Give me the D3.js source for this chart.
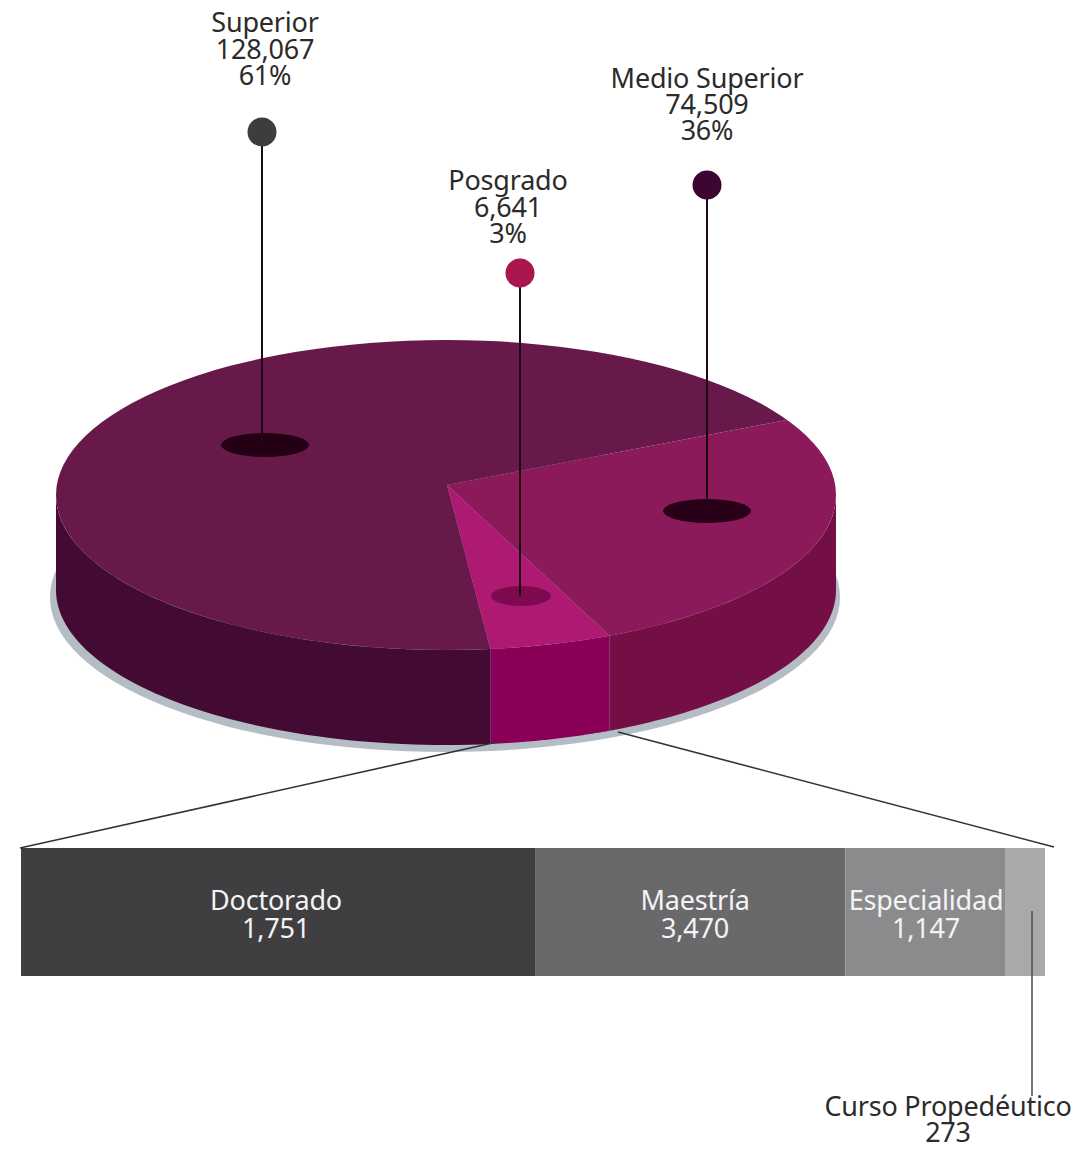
<!DOCTYPE html>
<html>
<head>
<meta charset="utf-8">
<script src="https://cdn.jsdelivr.net/npm/d3@7"></script>
<style>
  html, body { margin: 0; padding: 0; background: #fff; }
  text { font-family: "Noto Sans", sans-serif; font-size: 27px; letter-spacing: -0.2px; text-anchor: middle; fill: #2b2b2b; }
  text.inbar { fill: #f4f4f4; }
</style>
</head>
<body>
<script>
// pie data
let levels = ["Medio Superior", "Posgrado", "Superior"];
let students = [74509, 6641, 128067];
let percents = [36, 3, 61];
// sweep of each slice as it is drawn in the picture (degrees), not the same as percents
let drawnSweep = [92.5, 17.2, 250.3];

// posgrado breakdown
let posgrado = ["Doctorado", "Maestría", "Especialidad", "Curso Propedéutico"];
let posgradoValues = [1751, 3470, 1147, 273];
// bar widths as drawn in the picture (share of the bar, %)
let drawnShare = [50.2, 30.3, 15.6, 3.9];

let w = 1074;
let h = 1150;

let topColor = ["#8c1a5a", "#ae1a72", "#671a4a"];
let sideColor = ["#740f45", "#8a0058", "#430a33"];
let pinColor = ["#3d0532", "#a8154f", "#3d3d3f"];
let barColor = ["#3f3f41", "#69696c", "#8b8b8e", "#a9a9ac"];

let cx = 446, cy = 495, rx = 390, ry = 155, depth = 95;
// the slices meet a bit above the middle of the disc
let apexX = 447, apexY = 485;
let k = ry / rx;

let svg = d3.select("body")
            .append("svg")
            .attr("width", w)
            .attr("height", h)
            .style("display", "block");

let fmt = d3.format(",");

let pie = d3.pie()
            .sort(null)
            .value(d => d)
            .startAngle(64.3 * Math.PI / 180)
            .endAngle((64.3 + 360) * Math.PI / 180);
let slices = pie(drawnSweep);

//where a slice edge coming from the apex hits the rim, as an angle on the rim
function rimAngle(a) {
	let ux = Math.sin(a), uy = -Math.cos(a);
	let ox = (apexX - cx) / rx, oy = (apexY - cy) / ry;
	let b = ox * ux + oy * uy;
	let c = ox * ox + oy * oy - 1;
	let t = -b + Math.sqrt(b * b - c);
	let r = Math.atan2(ox + t * ux, -(oy + t * uy));
	while (r < a - Math.PI) r += 2 * Math.PI;
	return r;
}

//shadow under the pie
svg.append("ellipse")
   .attr("cx", 445).attr("cy", 597)
   .attr("rx", 395).attr("ry", 155)
   .attr("fill", "#b5bdc4");

//sides: only the part of each slice facing the viewer
let rim = d3.line();
function sidePath(s) {
	let a0 = Math.max(rimAngle(s.startAngle), Math.PI / 2);
	let a1 = Math.min(rimAngle(s.endAngle), 3 * Math.PI / 2);
	let step = (a1 - a0) / 60;
	let angles = d3.range(61).map(i => a0 + i * step);
	let upper = angles.map(a => [cx + rx * Math.sin(a), cy - ry * Math.cos(a)]);
	let lower = angles.slice().reverse().map(a => [cx + rx * Math.sin(a), cy + depth - ry * Math.cos(a)]);
	return rim(upper.concat(lower)) + "Z";
}

svg.selectAll("path.side")
   .data(slices)
   .enter()
   .append("path")
   .attr("class", "side")
   .attr("d", sidePath)
   .attr("fill", (d, i) => sideColor[i]);

//top of the pie, clipped to the disc
svg.append("clipPath")
   .attr("id", "disc")
   .append("ellipse")
   .attr("cx", cx).attr("cy", cy)
   .attr("rx", rx).attr("ry", ry);

let arc = d3.arc().innerRadius(0).outerRadius(rx * 1.2);
svg.append("g")
   .attr("clip-path", "url(#disc)")
   .append("g")
   .attr("transform", `translate(${apexX},${apexY}) scale(1,${k})`)
   .selectAll("path")
   .data(slices)
   .enter()
   .append("path")
   .attr("d", arc)
   .attr("fill", (d, i) => topColor[i]);

//pins
let pinX = [707, 520, 262];
let pinTop = [185, 273, 132];
let pinBase = [511, 596, 445];
let holeX = [707, 521, 265];
let holeRx = [44, 30, 44];
let holeRy = [12, 10, 12];
let holeColor = ["#2a0018", "#7d0a4f", "#240014"];

levels.forEach((name, i) => {
	svg.append("ellipse")
	   .attr("cx", holeX[i]).attr("cy", pinBase[i])
	   .attr("rx", holeRx[i]).attr("ry", holeRy[i])
	   .attr("fill", holeColor[i]);
	svg.append("line")
	   .attr("x1", pinX[i]).attr("x2", pinX[i])
	   .attr("y1", pinTop[i]).attr("y2", pinBase[i])
	   .attr("stroke", "#1c0a14")
	   .attr("stroke-width", 2);
	svg.append("circle")
	   .attr("cx", pinX[i]).attr("cy", pinTop[i])
	   .attr("r", 14.5)
	   .attr("fill", pinColor[i]);
});

//pie labels
let labelX = [707, 508, 265];
let labelY = [88, 190, 32];
let labelGap = [26, 26.5, 26.5];
levels.forEach((name, i) => {
	let lines = [name, fmt(students[i]), percents[i] + "%"];
	lines.forEach((t, j) => {
		svg.append("text")
		   .attr("x", labelX[i])
		   .attr("y", labelY[i] + j * labelGap[i])
		   .text(t);
	});
});

//stacked bar
let ends = Array.from(d3.cumsum(drawnShare));
let x = d3.scaleLinear().domain([0, 100]).range([21, 1045]);
let barTop = 848, barH = 128;

svg.selectAll("rect.seg")
   .data(posgrado)
   .enter()
   .append("rect")
   .attr("class", "seg")
   .attr("x", (d, i) => x(i ? ends[i - 1] : 0))
   .attr("y", barTop)
   .attr("width", (d, i) => x(ends[i]) - x(i ? ends[i - 1] : 0))
   .attr("height", barH)
   .attr("fill", (d, i) => barColor[i]);

//connector lines from the pie to the bar
svg.append("line")
   .attr("x1", 497).attr("y1", 742).attr("x2", 20).attr("y2", 848)
   .attr("stroke", "#333").attr("stroke-width", 1.6);
svg.append("line")
   .attr("x1", 618).attr("y1", 732).attr("x2", 1054).attr("y2", 847)
   .attr("stroke", "#333").attr("stroke-width", 1.6);

//bar labels
let barLabelX = [276, 695, 926];
posgrado.slice(0, 3).forEach((name, i) => {
	svg.append("text").attr("class", "inbar").attr("x", barLabelX[i]).attr("y", 910).text(name);
	svg.append("text").attr("class", "inbar").attr("x", barLabelX[i]).attr("y", 938).text(fmt(posgradoValues[i]));
});

//curso propedeutico callout
svg.append("line")
   .attr("x1", 1032).attr("x2", 1032)
   .attr("y1", 911).attr("y2", 1096)
   .attr("stroke", "#555")
   .attr("stroke-width", 1.6);
svg.append("text").attr("x", 948).attr("y", 1116).text(posgrado[3]);
svg.append("text").attr("x", 948).attr("y", 1142).text(fmt(posgradoValues[3]));
</script>
</body>
</html>
